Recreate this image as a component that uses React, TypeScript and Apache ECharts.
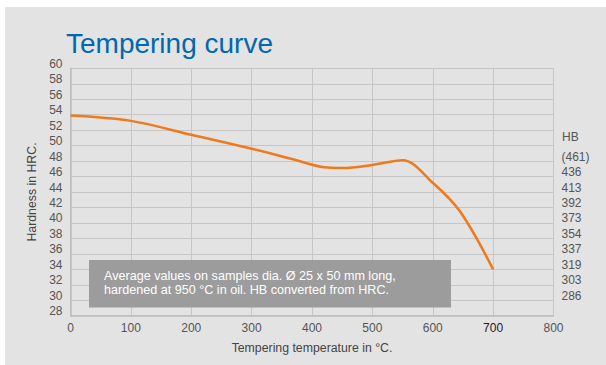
import React, { useEffect, useRef } from "react";
import * as echarts from "echarts";

const temperatures = [0, 100, 200, 300, 370, 420, 450, 500, 550, 600, 645, 700];
const hardnessHRC = [53.9, 53.2, 51.4, 49.6, 48.2, 47.2, 47.1, 47.5, 48.1, 45.2, 41.5, 34.0];
const xTicks = [0, 100, 200, 300, 400, 500, 600, 700, 800];
const hbLabels: Record<number, string> = {
  48: "(461)", 46: "436", 44: "413", 42: "392", 40: "373",
  38: "354", 36: "337", 34: "319", 32: "303", 30: "286",
};
const title = "Tempering curve";
const noteLines = [
  "Average values on samples dia. Ø 25 x 50 mm long,",
  "hardened at 950 °C in oil. HB converted from HRC.",
];

const FONT = "Liberation Sans, Arial, Helvetica, sans-serif";

export default function App() {
  const ref = useRef<HTMLDivElement>(null);
  useEffect(() => {
    document.body.style.margin = "0";
    const chart = echarts.init(ref.current!, null, { renderer: "svg" });
    chart.setOption({
      animation: false,
      backgroundColor: "#ffffff",
      textStyle: { fontFamily: FONT },
      grid: { left: 70.5, right: 52.5, top: 68.3, bottom: 49.3 },
      xAxis: {
        type: "value",
        min: 0,
        max: 800,
        interval: 100,
        axisLine: { show: true, lineStyle: { color: "#bdbdbd", width: 1.5 } },
        axisTick: { show: false },
        splitLine: { show: true, lineStyle: { color: "#c6c6c6", width: 1 } },
        axisLabel: {
          color: "#555",
          fontSize: 12,
          fontFamily: FONT,
          margin: 6,
          formatter: (v: number) => (v === 700 ? "{b|700}" : String(v)),
          rich: { b: { color: "#222", fontSize: 12, fontFamily: FONT } },
        },
        name: "Tempering temperature in °C.",
        nameLocation: "middle",
        nameGap: 26,
        nameTextStyle: { color: "#444", fontSize: 12.3, fontFamily: FONT },
      },
      yAxis: [
        {
          type: "value",
          min: 28,
          max: 60,
          interval: 2,
          axisLine: { show: true, lineStyle: { color: "#bdbdbd", width: 1.5 } },
          axisTick: { show: false },
          splitLine: { show: true, lineStyle: { color: "#c6c6c6", width: 1 } },
          axisLabel: {
            color: "#555",
            fontSize: 12,
            fontFamily: FONT,
            margin: 8,
            formatter: (v: number) => `{a|${v}}`,
            rich: { a: { color: "#555", fontSize: 12, fontFamily: FONT, padding: [0, 0, 9, 0] } },
          },
          name: "Hardness in HRC.",
          nameLocation: "middle",
          nameGap: 33,
          nameRotate: 90,
          nameTextStyle: { color: "#444", fontSize: 12.3, fontFamily: FONT },
        },
        {
          type: "value",
          min: 28,
          max: 60,
          interval: 2,
          position: "right",
          axisLine: { show: true, lineStyle: { color: "#c6c6c6", width: 1 } },
          axisTick: { show: false },
          splitLine: { show: false },
          axisLabel: {
            color: "#555",
            fontSize: 12,
            fontFamily: FONT,
            margin: 8,
            formatter: (v: number) => (hbLabels[v] ? `{a|${hbLabels[v]}}` : ""),
            rich: { a: { color: "#555", fontSize: 12, fontFamily: FONT, padding: [0, 0, 9, 0] } },
          },
        },
      ],
      graphic: [
        {
          type: "rect",
          z: -10,
          silent: true,
          shape: { x: 5, y: 7, width: 601, height: 358 },
          style: { fill: "#e3e3e3" },
        },
        {
          type: "text",
          x: 66,
          y: 43,
          style: {
            text: title,
            fill: "#0068b0",
            font: `28px ${FONT}`,
            verticalAlign: "middle",
          },
        },
        {
          type: "text",
          x: 562,
          y: 137,
          style: {
            text: "HB",
            fill: "#555",
            font: `12px ${FONT}`,
            verticalAlign: "middle",
          },
        },
        {
          type: "rect",
          z: 10,
          shape: { x: 89, y: 260, width: 362, height: 47.5 },
          style: { fill: "#9c9c9c" },
        },
        ...noteLines.map((line, i) => ({
          type: "text",
          z: 11,
          x: 104,
          y: 276.2 + i * 13.6,
          style: {
            text: line,
            fill: "#ffffff",
            font: `12.6px ${FONT}`,
            verticalAlign: "middle",
          },
        })),
      ],
      series: [
        {
          type: "line",
          data: temperatures.map((t, i) => [t, hardnessHRC[i]]),
          smooth: 0.35,
          symbol: "none",
          lineStyle: { color: "#ee7a1b", width: 2.5 },
          z: 5,
        },
      ],
    });
    return () => chart.dispose();
  }, []);
  return <div ref={ref} style={{ width: 606, height: 365 }} />;
}
